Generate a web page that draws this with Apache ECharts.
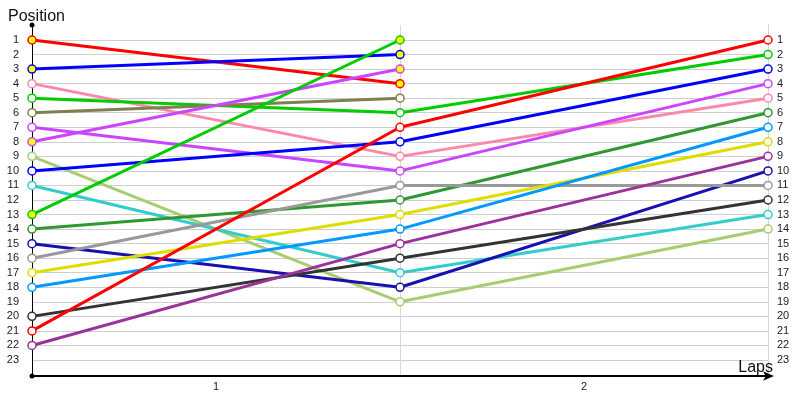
<!DOCTYPE html>
<html>
<head>
<meta charset="utf-8">
<script src="https://cdn.jsdelivr.net/npm/echarts@6/dist/echarts.min.js"></script>
<style>html,body{margin:0;padding:0;background:#fff}#c{width:800px;height:400px}</style>
</head>
<body>
<div id="c"></div>
<script>
const lapLabels = ['1', '2'];
const laps = [0, 1, 2];
const positions = [1,2,3,4,5,6,7,8,9,10,11,12,13,14,15,16,17,18,19,20,21,22,23];

const redA = [1, 4];
const blueA = [3, 2];
const pink = [4, 9, 5];
const greenA = [5, 6, 2];
const olive = [6, 5];
const violetA = [7, 10, 4];
const violetB = [8, 3];
const lightOlive = [9, 19, 14];
const blueB = [10, 8, 3];
const cyan = [11, 17, 13];
const greenB = [13, 1];
const darkGreen = [14, 12, 6];
const darkBlue = [15, 18, 10];
const gray = [16, 11, 11];
const yellow = [17, 13, 8];
const lightBlue = [18, 14, 7];
const black = [20, 16, 12];
const redB = [21, 7, 1];
const purple = [22, 15, 9];

const seriesDefs = [
  [redA, '#ff0000', true],
  [blueA, '#0000ff', true],
  [pink, '#ff88aa', false],
  [greenA, '#00cc00', false],
  [olive, '#7f7f4f', false],
  [violetA, '#cc44ff', false],
  [violetB, '#cc44ff', true],
  [lightOlive, '#a8cc70', false],
  [blueB, '#0000ff', false],
  [cyan, '#33cccc', false],
  [greenB, '#00cc00', true],
  [darkGreen, '#2e9930', false],
  [darkBlue, '#1a0fb0', false],
  [gray, '#999999', false],
  [yellow, '#dddd00', false],
  [lightBlue, '#0099ff', false],
  [black, '#333333', false],
  [redB, '#ff0000', false],
  [purple, '#993399', false]
];

const series = seriesDefs.map(([vals, color, retired]) => ({
  type: 'line',
  xAxisIndex: 2,
  yAxisIndex: 1,
  z: 10,
  data: vals.map((v, i) => [laps[i], v]),
  symbol: 'circle',
  symbolSize: 8,
  lineStyle: { color: color, width: 3 },
  itemStyle: { color: retired ? '#ffff00' : '#ffffff', borderColor: color, borderWidth: 1.5 },
  emphasis: { disabled: true },
  animation: false
}));

const labelStyle = { fontFamily: 'Liberation Sans', fontSize: 11, color: '#1a1a2a' };

const chart = echarts.init(document.getElementById('c'));
chart.setOption({
  animation: false,
  title: [
    { text: 'Position', left: 3, top: 4, textStyle: { fontFamily: 'Liberation Sans', fontSize: 16, fontWeight: 'normal', color: '#111' } },
    { text: 'Laps', right: 22, top: 355, textStyle: { fontFamily: 'Liberation Sans', fontSize: 16, fontWeight: 'normal', color: '#111' } }
  ],
  grid: [
    { left: 32, right: 32, top: 25, bottom: 24 },
    { left: 32, right: 32, top: 40, bottom: 40 }
  ],
  xAxis: [
    {
      gridIndex: 0, type: 'value', min: 0, max: 2, interval: 1, position: 'bottom', z: 1,
      axisLine: { show: true, onZero: false, lineStyle: { color: '#000', width: 2 }, symbol: ['none', 'arrow'], symbolSize: [7, 11], symbolOffset: [0, 6] },
      axisTick: { show: false }, axisLabel: { show: false },
      splitLine: { show: true, lineStyle: { color: '#d6d6d6', width: 1 } }
    },
    {
      gridIndex: 0, type: 'category', data: lapLabels, boundaryGap: true, position: 'bottom',
      axisLine: { show: false, onZero: false }, axisTick: { show: false },
      axisLabel: Object.assign({ margin: 5 }, labelStyle), splitLine: { show: false }
    },
    { gridIndex: 1, type: 'value', min: 0, max: 2, show: false }
  ],
  yAxis: [
    {
      gridIndex: 0, type: 'value', min: 0, max: 24, inverse: true, z: 6, position: 'left',
      axisLine: { show: true, onZero: false, lineStyle: { color: '#000', width: 1 }, symbol: ['circle', 'circle'], symbolSize: [5, 5] },
      axisTick: { show: false }, axisLabel: { show: false }, splitLine: { show: false }
    },
    {
      gridIndex: 1, type: 'value', min: 1, max: 23, interval: 1, inverse: true, position: 'left', z: 0,
      axisLine: { show: false }, axisTick: { show: false },
      axisLabel: Object.assign({ margin: 13, formatter: v => positions.includes(v) ? String(v) : '' }, labelStyle),
      splitLine: { show: true, lineStyle: { color: '#cfcfcf', width: 1 } }
    },
    {
      gridIndex: 1, type: 'value', min: 1, max: 23, interval: 1, inverse: true, position: 'right',
      axisLine: { show: false }, axisTick: { show: false },
      axisLabel: Object.assign({ margin: 9, formatter: v => positions.includes(v) ? String(v) : '' }, labelStyle),
      splitLine: { show: false }
    },
    {
      gridIndex: 0, type: 'value', min: 0, max: 24, inverse: true, position: 'right', z: 0,
      axisLine: { show: true, onZero: false, lineStyle: { color: '#d6d6d6', width: 1 } },
      axisTick: { show: false }, axisLabel: { show: false }, splitLine: { show: false }
    }
  ],
  series: series
});
</script>
</body>
</html>
